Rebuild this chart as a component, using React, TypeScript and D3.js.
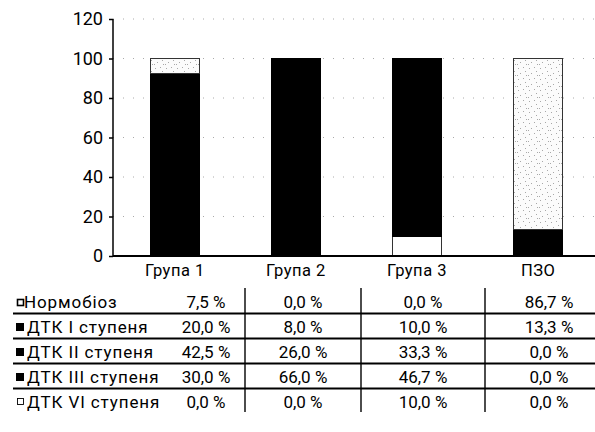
import { useEffect, useRef } from 'react'
import * as d3 from 'd3'

// Стовпчикова діаграма з накопиченням + таблиця значень під нею
const categories = ['Група 1', 'Група 2', 'Група 3', 'ПЗО']
const seriesKeys = ['norm', 'dtk1', 'dtk2', 'dtk3', 'dtk6']
const seriesNames = ['Нормобіоз', 'ДТК I ступеня', 'ДТК II ступеня', 'ДТК III ступеня', 'ДТК VI ступеня']
const normobioz = [7.5, 0.0, 0.0, 86.7]
const dtk1 = [20.0, 8.0, 10.0, 13.3]
const dtk2 = [42.5, 26.0, 33.3, 0.0]
const dtk3 = [30.0, 66.0, 46.7, 0.0]
const dtk6 = [0.0, 0.0, 10.0, 0.0]
const yTicks = [0, 20, 40, 60, 80, 100, 120]
// порядок у стосі знизу догори
const stackOrder = ['dtk6', 'dtk3', 'dtk2', 'dtk1', 'norm']

const FONT = 'Roboto, "Noto Sans", sans-serif'

export default function App() {
  const ref = useRef<SVGSVGElement>(null)

  useEffect(() => {
    const W = 595, H = 432
    const svg = d3.select(ref.current)
    svg.selectAll('*').remove()
    svg.attr('width', W).attr('height', H).attr('viewBox', `0 0 ${W} ${H}`)

    const valuesByKey: Record<string, number[]> = {
      norm: normobioz, dtk1, dtk2, dtk3, dtk6,
    }
    const rows = categories.map((c, i) => {
      const r: any = { cat: c }
      seriesKeys.forEach(k => { r[k] = valuesByKey[k][i] })
      return r
    })

    const x = d3.scaleBand().domain(categories).range([114, 599]).paddingInner(0.595).paddingOuter(0.3)
    const y = d3.scaleLinear().domain([0, 120]).range([256, 19])
    const axisX = 113

    // крапчастий візерунок для «Нормобіоз»
    const defs = svg.append('defs')
    const pat = defs.append('pattern').attr('id', 'speckle').attr('patternUnits', 'userSpaceOnUse')
      .attr('width', 11).attr('height', 11)
    pat.append('rect').attr('width', 11).attr('height', 11).attr('fill', '#fbfbfb')
    ;[[1, 2], [6, 1], [3, 7], [8, 5], [9, 9], [0, 9]].forEach(([px, py]) => {
      pat.append('rect').attr('x', px).attr('y', py).attr('width', 1).attr('height', 1).attr('fill', '#a8a8a8')
    })

    const fills: Record<string, string> = {
      norm: 'url(#speckle)', dtk1: '#000', dtk2: '#000', dtk3: '#000', dtk6: '#fff',
    }

    // сітка
    svg.append('g').selectAll('line').data(yTicks.filter(t => t > 0)).join('line')
      .attr('x1', axisX).attr('x2', W).attr('y1', d => y(d)).attr('y2', d => y(d))
      .attr('stroke', '#aaa').attr('stroke-width', 1).attr('stroke-dasharray', '1 9')

    const stack = d3.stack<any>().keys(stackOrder)(rows)
    const gBars = svg.append('g').attr('shape-rendering', 'crispEdges')
    stack.forEach(layer => {
      const black = fills[layer.key] === '#000'
      gBars.append('g').selectAll('rect').data(layer.filter(d => d[1] - d[0] > 0)).join('rect')
        .attr('x', d => x(d.data.cat)!)
        .attr('width', x.bandwidth())
        .attr('y', d => y(d[1]))
        .attr('height', d => y(d[0]) - y(d[1]))
        .attr('fill', fills[layer.key])
        .attr('stroke', black ? '#000' : '#333').attr('stroke-width', black ? 1 : 1.2)
    })

    // осі
    const yAxis = svg.append('g').attr('transform', `translate(${axisX},0)`)
      .call(d3.axisLeft(y).tickValues(yTicks).tickSize(4).tickPadding(6).tickFormat(d3.format('d')))
    yAxis.selectAll('text').attr('font-family', FONT).attr('font-size', 18).attr('fill', '#000')
    yAxis.selectAll('line,path').attr('stroke', '#000').attr('stroke-width', 1.5)
    yAxis.select('.domain').attr('d', `M0,${y(120)}V${y(0)}`)

    svg.append('line').attr('x1', axisX).attr('x2', W).attr('y1', y(0)).attr('y2', y(0))
      .attr('stroke', '#000').attr('stroke-width', 2)

    svg.append('g').selectAll('text').data(categories).join('text')
      .attr('x', d => x(d)! + x.bandwidth() / 2).attr('y', 276)
      .attr('text-anchor', 'middle').attr('font-family', FONT).attr('font-size', 16.5)
      .attr('letter-spacing', 0.5).attr('fill', '#000').text(d => d)

    // таблиця
    const colEdges = [167, 245, 361, 485, 613]
    const rowY = d3.scaleLinear().domain([0, 1]).range([308, 333])
    const fmt = (v: number) => `${d3.format('.1f')(v).replace('.', ',')} %`
    const gT = svg.append('g').attr('font-family', FONT).attr('font-size', 17).attr('fill', '#000')

    seriesKeys.forEach((k, ri) => {
      const by = rowY(ri)
      // маркер легенди
      if (k === 'norm') {
        gT.append('rect').attr('x', 17.5).attr('y', by - 8.5).attr('width', 6).attr('height', 6)
          .attr('fill', '#fff').attr('stroke', '#000').attr('stroke-width', 1.6)
      } else if (k === 'dtk6') {
        gT.append('rect').attr('x', 17.5).attr('y', by - 9.5).attr('width', 6).attr('height', 6)
          .attr('fill', '#fff').attr('stroke', '#000').attr('stroke-width', 0.9)
      } else {
        gT.append('rect').attr('x', 16).attr('y', by - 10).attr('width', 8).attr('height', 8).attr('fill', '#000')
      }
      gT.append('text').attr('x', k === 'norm' ? 24 : 27).attr('y', by)
        .attr('letter-spacing', 0.9).text(seriesNames[ri])
      valuesByKey[k].forEach((v, ci) => {
        gT.append('text').attr('x', (colEdges[ci] + colEdges[ci + 1]) / 2).attr('y', by)
          .attr('text-anchor', 'middle').text(fmt(v))
      })
      if (ri < seriesKeys.length - 1) {
        svg.append('line').attr('x1', 13).attr('x2', W).attr('y1', by + 5.5).attr('y2', by + 5.5)
          .attr('stroke', '#000').attr('stroke-width', 1.8)
      }
    })
    colEdges.slice(1, 4).forEach(cx => {
      svg.append('line').attr('x1', cx).attr('x2', cx).attr('y1', 288).attr('y2', 412)
        .attr('stroke', '#000').attr('stroke-width', 1.4)
    })
  }, [])

  return (
    <svg ref={ref} style={{ position: 'absolute', left: 0, top: 0, background: '#fff' }} />
  )
}
